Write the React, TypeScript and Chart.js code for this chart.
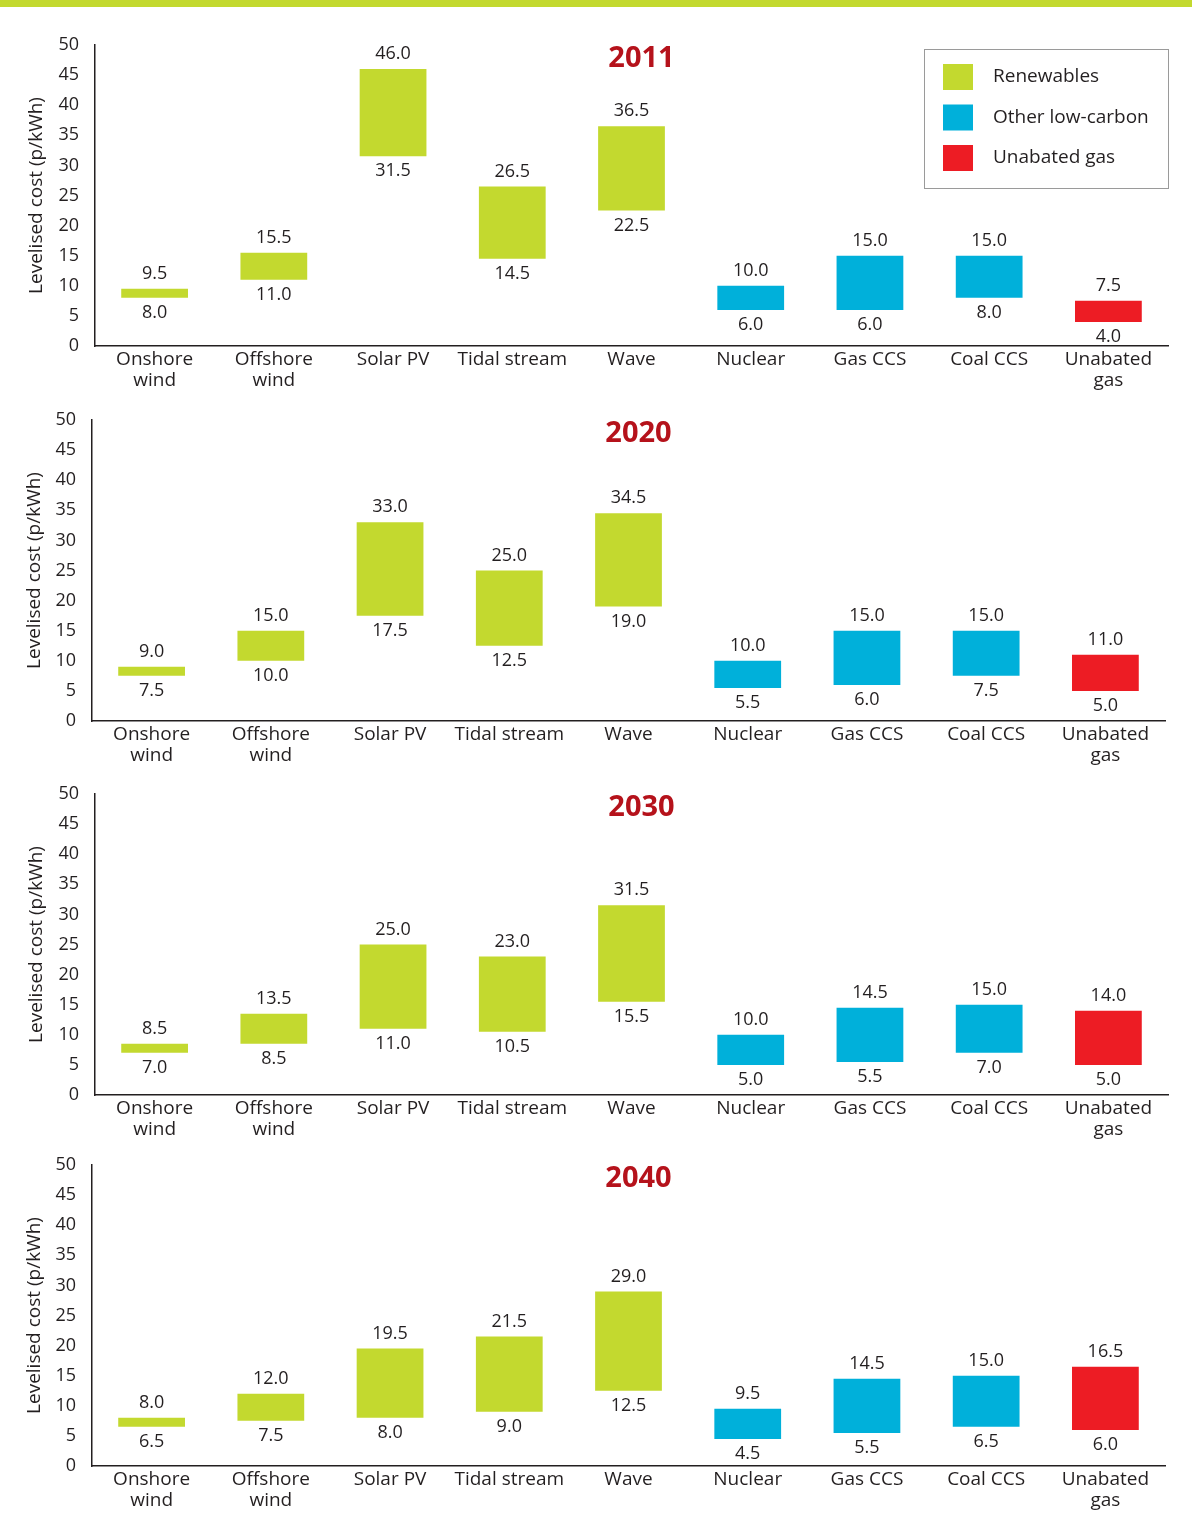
import React, { useEffect, useRef } from "react";
import { Chart, registerables } from "chart.js";

Chart.register(...registerables);

// ---------- DATA ----------
const categories: string[][] = [
  ["Onshore", "wind"],
  ["Offshore", "wind"],
  ["Solar PV"],
  ["Tidal stream"],
  ["Wave"],
  ["Nuclear"],
  ["Gas CCS"],
  ["Coal CCS"],
  ["Unabated", "gas"],
];
const categoryGroup = [0, 0, 0, 0, 0, 1, 1, 1, 2];
const groupNames = ["Renewables", "Other low-carbon", "Unabated gas"];
const groupColors = ["#c3d92f", "#00b0da", "#ed1c24"];

const years = ["2011", "2020", "2030", "2040"];
const yAxisTitle = "Levelised cost (p/kWh)";
const yMin = 0;
const yMax = 50;
const yStep = 5;

const low2011 = [8.0, 11.0, 31.5, 14.5, 22.5, 6.0, 6.0, 8.0, 4.0];
const high2011 = [9.5, 15.5, 46.0, 26.5, 36.5, 10.0, 15.0, 15.0, 7.5];
const low2020 = [7.5, 10.0, 17.5, 12.5, 19.0, 5.5, 6.0, 7.5, 5.0];
const high2020 = [9.0, 15.0, 33.0, 25.0, 34.5, 10.0, 15.0, 15.0, 11.0];
const low2030 = [7.0, 8.5, 11.0, 10.5, 15.5, 5.0, 5.5, 7.0, 5.0];
const high2030 = [8.5, 13.5, 25.0, 23.0, 31.5, 10.0, 14.5, 15.0, 14.0];
const low2040 = [6.5, 7.5, 8.0, 9.0, 12.5, 4.5, 5.5, 6.5, 6.0];
const high2040 = [8.0, 12.0, 19.5, 21.5, 29.0, 9.5, 14.5, 15.0, 16.5];

const lows = [low2011, low2020, low2030, low2040];
const highs = [high2011, high2020, high2030, high2040];

// ---------- STYLE / LAYOUT ----------
const FONT = "'Open Sans', sans-serif";
const TEXT = "#231f20";
const TITLE_COLOR = "#b5121b";
const AXIS_COLOR = "#231f20";

type PanelLayout = {
  canvasTop: number;
  canvasHeight: number;
  axisWidth: number;
  padTop: number;
  padRight: number;
  xAxisHeight: number;
  titlePad: number;
};

// canvases overlap (transparent); each plot area is set by padTop and xAxisHeight
const layouts: PanelLayout[] = [
  { canvasTop: 8, canvasHeight: 387, axisWidth: 95, padTop: 37, padRight: 24, xAxisHeight: 49, titlePad: 25 },
  { canvasTop: 384, canvasHeight: 396, axisWidth: 92, padTop: 36, padRight: 27, xAxisHeight: 59, titlePad: 23 },
  { canvasTop: 758, canvasHeight: 394, axisWidth: 95, padTop: 36, padRight: 24, xAxisHeight: 57, titlePad: 25 },
  { canvasTop: 1129, canvasHeight: 408, axisWidth: 92, padTop: 36, padRight: 27, xAxisHeight: 71, titlePad: 23 },
];

const valueLabelPlugin = {
  id: "valueLabels",
  afterDatasetsDraw(chart: any) {
    const ctx = chart.ctx;
    const meta = chart.getDatasetMeta(0);
    const data = chart.data.datasets[0].data as number[][];
    ctx.save();
    ctx.font = `18px ${FONT}`;
    ctx.fillStyle = TEXT;
    ctx.textAlign = "center";
    ctx.textBaseline = "middle";
    meta.data.forEach((el: any, i: number) => {
      const [lo, hi] = data[i];
      const top = Math.min(el.y, el.base);
      const bottom = Math.max(el.y, el.base);
      ctx.fillText(hi.toFixed(1), el.x, top - 15);
      ctx.fillText(lo.toFixed(1), el.x, bottom + 15);
    });
    ctx.restore();
  },
};

const yearTitlePlugin = {
  id: "yearTitle",
  afterDraw(chart: any) {
    const opts = chart.options.plugins.yearTitle;
    if (!opts) return;
    const { ctx, chartArea } = chart;
    ctx.save();
    ctx.font = `bold 29px ${FONT}`;
    ctx.fillStyle = TITLE_COLOR;
    ctx.textAlign = "center";
    ctx.textBaseline = "middle";
    ctx.fillText(opts.text, (chartArea.left + chartArea.right) / 2 + 10, chartArea.top + 14);
    ctx.restore();
  },
};

const boxLegendPlugin = {
  id: "boxLegend",
  afterDraw(chart: any) {
    const opts = chart.options.plugins.boxLegend;
    if (!opts || !opts.show) return;
    const { ctx, chartArea } = chart;
    const w = 244;
    const h = 139;
    const x = chartArea.right - w;
    const y = chartArea.top + 4;
    ctx.save();
    ctx.strokeStyle = "#9a9a9a";
    ctx.lineWidth = 1;
    ctx.strokeRect(x + 0.5, y + 0.5, w, h);
    ctx.font = `19px ${FONT}`;
    ctx.textAlign = "left";
    ctx.textBaseline = "middle";
    groupNames.forEach((name, i) => {
      const cy = y + 28 + i * 40.5;
      ctx.fillStyle = groupColors[i];
      ctx.fillRect(x + 19, cy - 13, 30, 26);
      ctx.fillStyle = TEXT;
      ctx.fillText(name, x + 69, cy);
    });
    ctx.restore();
  },
};

function Panel({ index }: { index: number }) {
  const ref = useRef<HTMLCanvasElement | null>(null);
  const L = layouts[index];
  useEffect(() => {
    if (!ref.current) return;
    const chart = new Chart(ref.current, {
      type: "bar",
      data: {
        labels: categories,
        datasets: [
          {
            data: categories.map((_, i) => [lows[index][i], highs[index][i]]),
            backgroundColor: categoryGroup.map((g) => groupColors[g]),
            borderWidth: 0,
            barPercentage: 0.56,
            categoryPercentage: 1,
          } as any,
        ],
      },
      options: {
        animation: false,
        responsive: false,
        maintainAspectRatio: false,
        events: [],
        layout: { padding: { top: L.padTop, right: L.padRight, left: 0, bottom: 0 } },
        plugins: {
          legend: { display: false },
          tooltip: { enabled: false },
          yearTitle: { text: years[index] },
          boxLegend: { show: index === 0 },
        } as any,
        scales: {
          x: {
            grid: { display: false, drawTicks: false },
            border: { display: true, color: AXIS_COLOR, width: 1.5 },
            ticks: {
              color: TEXT,
              font: { family: FONT, size: 19, lineHeight: 1.1 },
              padding: 3,
              maxRotation: 0,
              autoSkip: false,
            },
            afterFit(scale: any) {
              scale.height = L.xAxisHeight;
            },
          },
          y: {
            min: yMin,
            max: yMax,
            grid: { display: false, drawTicks: false },
            border: { display: true, color: AXIS_COLOR, width: 1.5 },
            ticks: {
              stepSize: yStep,
              color: TEXT,
              font: { family: FONT, size: 18 },
              padding: 16,
            },
            title: {
              display: true,
              text: yAxisTitle,
              color: TEXT,
              font: { family: FONT, size: 19, lineHeight: 1.2 },
              padding: { top: L.titlePad, bottom: 0 },
            },
            afterFit(scale: any) {
              scale.width = L.axisWidth;
            },
          },
        },
      },
      plugins: [valueLabelPlugin, yearTitlePlugin, boxLegendPlugin],
    });
    return () => chart.destroy();
  }, [index]);
  return (
    <canvas
      ref={ref}
      width={1192}
      height={L.canvasHeight}
      style={{ position: "absolute", left: 0, top: L.canvasTop, width: 1192, height: L.canvasHeight, display: "block" }}
    />
  );
}

export default function App() {
  useEffect(() => {
    document.body.style.margin = "0";
  }, []);
  return (
    <div style={{ position: "absolute", left: 0, top: 0, width: 1192, height: 1537, background: "#ffffff", overflow: "hidden" }}>
      <div style={{ position: "absolute", left: 0, top: 0, width: 1192, height: 7, background: "#c3d92f" }} />
      {years.map((_, i) => (
        <Panel key={i} index={i} />
      ))}
    </div>
  );
}
